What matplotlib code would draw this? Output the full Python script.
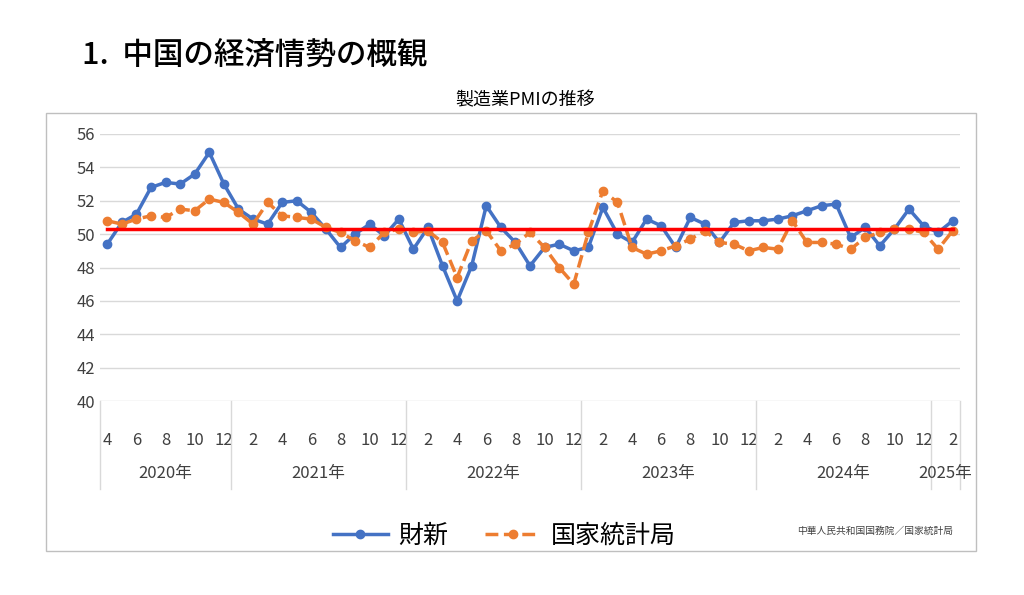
import matplotlib
matplotlib.use("Agg")
from matplotlib import pyplot as plt
from matplotlib.patches import Rectangle

plt.rcParams["font.family"] = "Noto Sans CJK JP"

caixin = [49.4, 50.7, 51.2, 52.8, 53.1, 53.0, 53.6, 54.9, 53.0,
          51.5, 50.9, 50.6, 51.9, 52.0, 51.3, 50.3, 49.2, 50.0, 50.6, 49.9, 50.9,
          49.1, 50.4, 48.1, 46.0, 48.1, 51.7, 50.4, 49.5, 48.1, 49.2, 49.4, 49.0,
          49.2, 51.6, 50.0, 49.5, 50.9, 50.5, 49.2, 51.0, 50.6, 49.5, 50.7, 50.8,
          50.8, 50.9, 51.1, 51.4, 51.7, 51.8, 49.8, 50.4, 49.3, 50.3, 51.5, 50.5,
          50.1, 50.8]
nbs = [50.8, 50.6, 50.9, 51.1, 51.0, 51.5, 51.4, 52.1, 51.9,
       51.3, 50.6, 51.9, 51.1, 51.0, 50.9, 50.4, 50.1, 49.6, 49.2, 50.1, 50.3,
       50.1, 50.2, 49.5, 47.4, 49.6, 50.2, 49.0, 49.4, 50.1, 49.2, 48.0, 47.0,
       50.1, 52.6, 51.9, 49.2, 48.8, 49.0, 49.3, 49.7, 50.2, 49.5, 49.4, 49.0,
       49.2, 49.1, 50.8, 49.5, 49.5, 49.4, 49.1, 49.8, 50.1, 50.3, 50.3, 50.1,
       49.1, 50.2]
reference = 50.3
months = [4, 5, 6, 7, 8, 9, 10, 11, 12] + list(range(1, 13)) * 4 + [1, 2]
years = ["2020年", "2021年", "2022年", "2023年", "2024年", "2025年"]
year_counts = [9, 12, 12, 12, 12, 2]

fig = plt.figure(figsize=(10.24, 5.95), dpi=100)
fig.patches.append(Rectangle((46 / 1024, 1 - 551 / 595), 930 / 1024, 438 / 595,
                             transform=fig.transFigure, fill=False, ec="#bfbfbf", lw=1))
fig.text(82 / 1024, 1 - 55 / 595, "1.  中国の経済情勢の概観", fontsize=22, va="center",
         fontweight="medium")
fig.text(525 / 1024, 1 - 100 / 595, "製造業PMIの推移", fontsize=13, ha="center", va="center")

ax = fig.add_axes([100 / 1024, 1 - 401 / 595, 860 / 1024, 267 / 595])
x = list(range(len(caixin)))
for y in range(40, 57, 2):
    ax.axhline(y, color="#d9d9d9", lw=1, zorder=0)
ax.plot(x, caixin, "-o", color="#4472c4", lw=2.5, ms=6, label="財新")
ax.plot(x, nbs, "--o", color="#ed7d31", lw=2.5, ms=6, label="国家統計局")
ax.plot([0, len(x) - 1], [reference, reference], color="red", lw=2.5)
ax.set_xlim(-0.5, len(x) - 0.5)
ax.set_ylim(40, 56)
ax.set_yticks(range(40, 57, 2))
ax.tick_params(axis="y", length=0, labelsize=12, labelcolor="#404040")
ax.set_xticks(x[::2])
ax.set_xticklabels([str(m) for m in months[::2]])
ax.tick_params(axis="x", length=0, labelsize=12, labelcolor="#404040", pad=22)
for s in ax.spines.values():
    s.set_visible(False)

# year row with separators
start = -0.5
for yr, n in zip(years, year_counts):
    ax.text(start + n / 2, -0.27, yr, transform=ax.get_xaxis_transform(),
            ha="center", va="center", fontsize=12, color="#404040")
    ax.plot([start, start], [0, -0.33], transform=ax.get_xaxis_transform(),
            color="#d9d9d9", lw=1, clip_on=False)
    start += n
ax.plot([start, start], [0, -0.33], transform=ax.get_xaxis_transform(),
        color="#d9d9d9", lw=1, clip_on=False)

ax.legend(loc="upper center", bbox_to_anchor=(0.47, -0.37), ncol=2, frameon=False,
          fontsize=18, handlelength=2.2, handletextpad=0.4, columnspacing=1.5)
fig.text(953 / 1024, 1 - 531 / 595, "中華人民共和国国務院／国家統計局", fontsize=7,
         ha="right", va="center", color="#404040")

fig.savefig("out.png")
